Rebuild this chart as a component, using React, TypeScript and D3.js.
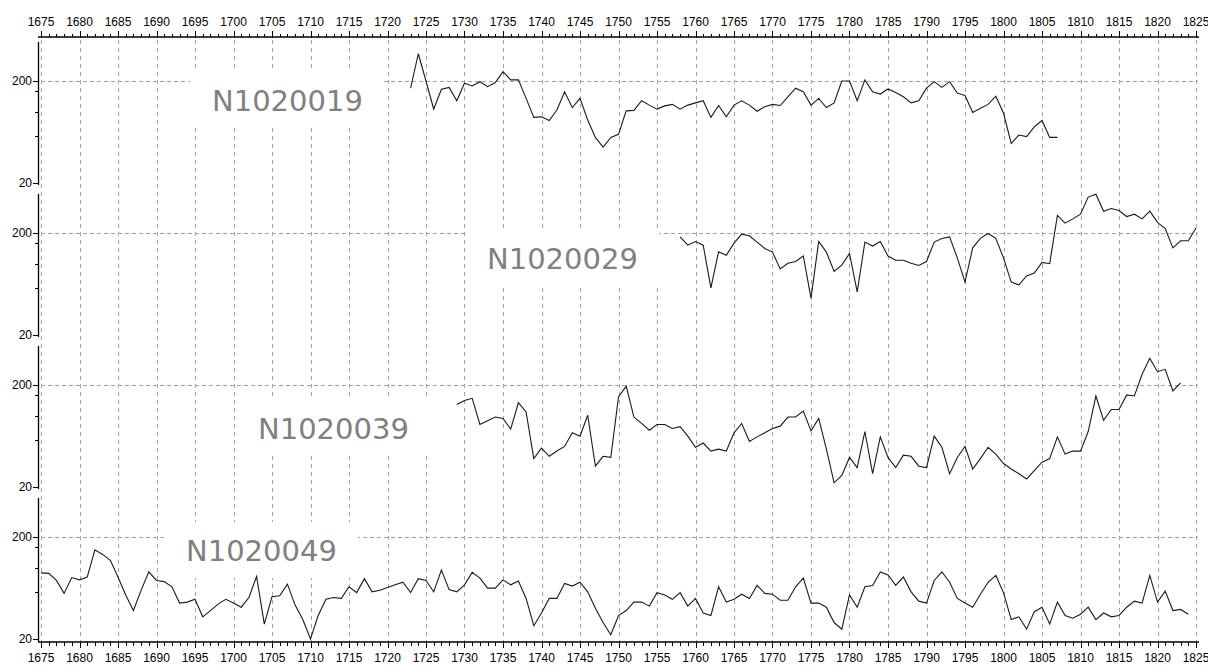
import React from "react";
import * as d3 from "d3";

// ring-width series, one value per year
const seriesNames = ["N1020019", "N1020029", "N1020039", "N1020049"];
const seriesStart = [1723, 1758, 1729, 1675];

const n1020019 = [
  170, 370, 200, 106, 166, 173, 128, 190, 179, 197,
  176, 193, 247, 205, 205, 135, 88, 89, 82, 104,
  157, 110, 135, 83, 56, 45, 56, 60, 102, 103,
  128, 116, 106, 114, 118, 106, 116, 122, 128, 88,
  115, 89, 116, 128, 116, 101, 112, 118, 115, 140,
  170, 157, 116, 135, 110, 122, 200, 200, 128, 205,
  157, 149, 167, 154, 140, 122, 128, 170, 197, 173,
  197, 152, 144, 98, 108, 118, 142, 97, 49, 59,
  57, 71, 82, 56, 56,
];

const n1020029 = [
  183, 152, 165, 152, 58, 131, 121, 159, 195, 188,
  163, 141, 130, 89, 101, 105, 119, 46, 165, 130,
  84, 97, 126, 53, 163, 149, 165, 119, 108, 108,
  101, 96, 105, 163, 177, 183, 114, 66, 143, 177,
  198, 177, 114, 66, 62, 76, 81, 103, 100, 298,
  250, 275, 306, 450, 480, 327, 347, 332, 290, 306,
  275, 327, 254, 221, 143, 168, 168, 224,
];

const n1020039 = [
  129, 141, 148, 82, 89, 97, 94, 74, 134, 109,
  38, 48, 40, 45, 50, 68, 63, 101, 32, 40,
  39, 153, 195, 97, 84, 72, 82, 82, 75, 78,
  63, 49, 54, 45, 47, 45, 68, 84, 56, 62,
  68, 75, 79, 97, 97, 111, 71, 94, 47, 22,
  26, 39, 31, 70, 27, 62, 39, 31, 41, 40,
  32, 31, 63, 49, 27, 39, 50, 30, 38, 49,
  42, 34, 30, 27, 24, 29, 35, 38, 62, 42,
  45, 45, 70, 156, 90, 115, 115, 160, 156, 255,
  365, 270, 285, 175, 210,
];

const n1020049 = [
  89, 88, 75, 56, 80, 76, 81, 150, 135, 118,
  81, 54, 38, 60, 91, 75, 73, 65, 45, 46,
  49, 33, 38, 44, 49, 45, 41, 51, 82, 28,
  52, 53, 69, 43, 31, 20, 34, 49, 51, 50,
  65, 57, 78, 58, 60, 64, 68, 72, 57, 78,
  75, 58, 95, 61, 58, 68, 90, 79, 63, 63,
  76, 68, 74, 50, 27, 36, 50, 50, 70, 66,
  72, 58, 40, 29, 22, 34, 38, 46, 46, 42,
  57, 54, 49, 57, 42, 50, 36, 34, 65, 46,
  49, 55, 50, 67, 56, 55, 48, 48, 65, 79,
  45, 45, 41, 29, 25, 54, 41, 65, 67, 91,
  85, 67, 81, 58, 47, 45, 75, 91, 72, 50,
  45, 41, 55, 72, 84, 57, 31, 33, 25, 37,
  41, 28, 46, 34, 32, 35, 41, 31, 36, 33,
  34, 41, 47, 45, 84, 46, 59, 38, 39, 35,
];

const seriesValues = [n1020019, n1020029, n1020039, n1020049];

const yearDomain = [1675, 1825];
const yTickLabels = [200, 20];
const yMinorTicks = [160, 100, 58];

// layout
const W = 1208;
const H = 666;
const left = 41;
const right = 1196;
const axisX = 38;
const topAxisY = 37;
const bottomAxisY = 642;
const panelTop0 = 42;
const panelStep = 152;
const panelH = 142;
const labelPos = [
  [212, 100],
  [487, 258],
  [258, 428],
  [186, 550],
];

const tickFont = "'Liberation Sans', Arial, sans-serif";
const gridColor = "#a3a3a3";

export default function App() {
  const x = d3.scaleLinear().domain(yearDomain).range([left, right]);
  const majorYears = d3.range(yearDomain[0], yearDomain[1] + 1, 5);
  const minorYears = d3.range(yearDomain[0], yearDomain[1] + 1, 1).filter((d) => d % 5 !== 0);

  const panels = seriesNames.map((name, i) => {
    const top = panelTop0 + i * panelStep;
    const bottom = top + panelH;
    const y = d3.scaleLog().domain([20, 200]).range([bottom - 1, top + 39]);
    const pts = seriesValues[i].map((v, k) => [seriesStart[i] + k, v] as [number, number]);
    const line = d3
      .line<[number, number]>()
      .x((d) => x(d[0]))
      .y((d) => y(d[1]));
    return { name, top, bottom, y, path: line(pts) || "" };
  });

  return (
    <svg
      width={W}
      height={H}
      style={{ position: "absolute", left: 0, top: 0, background: "#fff" }}
    >
      {/* vertical grid */}
      {majorYears.map((yr) => (
        <line
          key={"vg" + yr}
          x1={Math.round(x(yr)) + 0.5}
          x2={Math.round(x(yr)) + 0.5}
          y1={topAxisY + 3}
          y2={bottomAxisY}
          stroke={gridColor}
          strokeDasharray="4 4"
        />
      ))}
      {/* horizontal 200 grid per panel */}
      {panels.map((p) => (
        <line
          key={"hg" + p.name}
          x1={left}
          x2={right + 2}
          y1={Math.round(p.y(200)) + 0.5}
          y2={Math.round(p.y(200)) + 0.5}
          stroke={gridColor}
          strokeDasharray="4 3"
        />
      ))}
      {/* label boxes */}
      {panels.map((p, i) => (
        <rect
          key={"lb" + p.name}
          x={labelPos[i][0] - 22}
          y={labelPos[i][1] - 28}
          width={194}
          height={56}
          fill="#fff"
        />
      ))}
      {panels.map((p, i) => (
        <text
          key={"lt" + p.name}
          x={labelPos[i][0]}
          y={labelPos[i][1] + 10.5}
          fontFamily="'DejaVu Sans', Verdana, sans-serif"
          fontSize={29}
          fill="#808080"
        >
          {p.name}
        </text>
      ))}
      {/* series */}
      {panels.map((p) => (
        <path key={"s" + p.name} d={p.path} fill="none" stroke="#1a1a1a" strokeWidth={1.1} />
      ))}
      {/* y axes */}
      {panels.map((p) => (
        <g key={"ya" + p.name}>
          <line
            x1={axisX + 0.5}
            x2={axisX + 0.5}
            y1={p.top}
            y2={p.bottom + (p.bottom > 600 ? 2 : 1)}
            stroke="#000"
            strokeWidth={1.3}
          />
          {yTickLabels.map((t) => (
            <g key={t}>
              <line
                x1={axisX - 5}
                x2={axisX}
                y1={Math.round(p.y(t)) + 0.5}
                y2={Math.round(p.y(t)) + 0.5}
                stroke="#000"
              />
              <text
                x={axisX - 6}
                y={p.y(t) + 4}
                textAnchor="end"
                fontFamily={tickFont}
                fontSize={12}
                fill="#000"
              >
                {t}
              </text>
            </g>
          ))}
          {yMinorTicks.map((t) => (
            <line
              key={"m" + t}
              x1={axisX - 3}
              x2={axisX}
              y1={Math.round(p.y(t)) + 0.5}
              y2={Math.round(p.y(t)) + 0.5}
              stroke="#000"
            />
          ))}
        </g>
      ))}
      {/* top axis */}
      <line x1={axisX} x2={right + 3} y1={topAxisY} y2={topAxisY} stroke="#000" strokeWidth={1.5} />
      {majorYears.map((yr) => (
        <g key={"tt" + yr}>
          <line
            x1={Math.round(x(yr)) + 0.5}
            x2={Math.round(x(yr)) + 0.5}
            y1={topAxisY - 6}
            y2={topAxisY + 1}
            stroke="#000"
          />
          <text
            x={x(yr)}
            y={topAxisY - 11}
            textAnchor="middle"
            fontFamily={tickFont}
            fontSize={12}
            fill="#000"
          >
            {yr}
          </text>
        </g>
      ))}
      {minorYears.map((yr) => (
        <line
          key={"tm" + yr}
          x1={Math.round(x(yr)) + 0.5}
          x2={Math.round(x(yr)) + 0.5}
          y1={topAxisY - 3}
          y2={topAxisY}
          stroke="#000"
        />
      ))}
      {/* bottom axis */}
      <line x1={axisX} x2={right + 3} y1={bottomAxisY} y2={bottomAxisY} stroke="#000" strokeWidth={1.5} />
      {majorYears.map((yr) => (
        <g key={"bt" + yr}>
          <line
            x1={Math.round(x(yr)) + 0.5}
            x2={Math.round(x(yr)) + 0.5}
            y1={bottomAxisY}
            y2={bottomAxisY + 6}
            stroke="#000"
          />
          <text
            x={x(yr)}
            y={bottomAxisY + 20}
            textAnchor="middle"
            fontFamily={tickFont}
            fontSize={12}
            fill="#000"
          >
            {yr}
          </text>
        </g>
      ))}
      {minorYears.map((yr) => (
        <line
          key={"bm" + yr}
          x1={Math.round(x(yr)) + 0.5}
          x2={Math.round(x(yr)) + 0.5}
          y1={bottomAxisY}
          y2={bottomAxisY + 4}
          stroke="#000"
        />
      ))}
    </svg>
  );
}
